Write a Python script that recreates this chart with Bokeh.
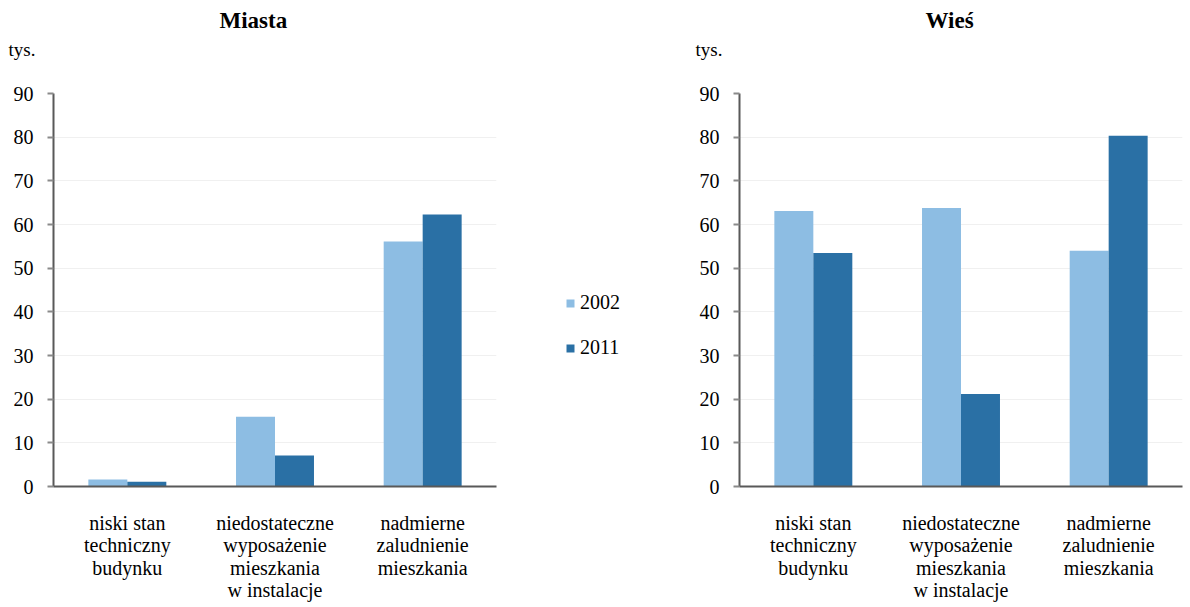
from bokeh.plotting import figure
from bokeh.models import (ColumnDataSource, Range1d, Legend, LegendItem, Title,
                          FactorRange)
from bokeh.transform import dodge
from bokeh.layouts import row, column
from bokeh.embed import file_html
from bokeh.resources import INLINE

# Categories (multi-line axis labels)
categories = [
    "niski stan\ntechniczny\nbudynku",
    "niedostateczne\nwyposażenie\nmieszkania\nw instalacje",
    "nadmierne\nzaludnienie\nmieszkania",
]
years = ["2002", "2011"]

# Values in thousands
miasta_2002 = [1.6, 16.0, 56.1]
miasta_2011 = [1.1, 7.1, 62.3]
wies_2002 = [63.1, 63.8, 54.0]
wies_2011 = [53.5, 21.2, 80.3]

y_ticks = [0, 10, 20, 30, 40, 50, 60, 70, 80, 90]
unit_label = "tys."

C2002 = "#8DBDE3"
C2011 = "#2A70A5"
AXIS = "#595959"
FONT = "'Liberation Serif', 'Times New Roman', serif"

HEADER_H = 80


def make_header(title, width, title_offset, unit_offset):
    # Strip above each chart: bold panel title above, unit caption below
    h = figure(width=width, height=HEADER_H, output_backend="svg",
               toolbar_location=None, tools="",
               x_range=Range1d(0, 1), y_range=Range1d(0, 1),
               min_border_top=35, min_border_bottom=HEADER_H - 36,
               min_border_left=0, min_border_right=0)
    h.axis.visible = False
    h.grid.visible = False
    h.outline_line_color = None
    h.title = Title(text=title, align="left", offset=title_offset,
                    text_font=FONT, text_font_size="23px",
                    text_font_style="bold", text_color="black", standoff=6)
    h.add_layout(Title(text=unit_label, align="left", offset=unit_offset,
                       vertical_align="top", text_font=FONT,
                       text_font_size="19px", text_font_style="normal",
                       text_color="black", standoff=5), "below")
    return h


def make_chart(v2002, v2011, width, border_left, border_right):
    src = ColumnDataSource(dict(cat=categories, y2002=v2002, y2011=v2011))
    p = figure(x_range=FactorRange(*categories), y_range=Range1d(0, 90),
               width=width, height=607 - HEADER_H, output_backend="svg",
               toolbar_location=None, tools="",
               min_border_left=border_left, min_border_right=border_right,
               min_border_top=93 - HEADER_H, min_border_bottom=121)
    p.title.visible = False

    p.vbar(x=dodge("cat", -0.132, range=p.x_range), top="y2002",
           width=0.264, source=src, fill_color=C2002, line_color=None)
    p.vbar(x=dodge("cat", 0.132, range=p.x_range), top="y2011",
           width=0.264, source=src, fill_color=C2011, line_color=None)

    p.outline_line_color = None
    p.background_fill_color = "white"
    p.border_fill_color = "white"
    p.xgrid.grid_line_color = None
    p.ygrid.grid_line_color = "#f0f0f0"
    p.ygrid.ticker = y_ticks

    p.yaxis.ticker = y_ticks
    p.yaxis.axis_line_color = AXIS
    p.yaxis.axis_line_width = 2
    p.yaxis.major_tick_line_color = "#8a8a8a"
    p.yaxis.major_tick_line_width = 2
    p.yaxis.major_tick_out = 6
    p.yaxis.major_tick_in = 0
    p.yaxis.minor_tick_line_color = None
    p.yaxis.major_label_text_font = FONT
    p.yaxis.major_label_text_font_size = "20px"
    p.yaxis.major_label_text_color = "black"
    p.yaxis.major_label_standoff = 14

    p.xaxis.axis_line_color = AXIS
    p.xaxis.axis_line_width = 2
    p.xaxis.major_tick_line_color = None
    p.xaxis.minor_tick_line_color = None
    p.xaxis.major_label_text_font = FONT
    p.xaxis.major_label_text_font_size = "20px"
    p.xaxis.major_label_text_line_height = 1.03
    p.xaxis.major_label_text_color = "black"
    p.xaxis.major_label_standoff = 19
    return p


left = column(make_header("Miasta", 510, 166, -45),
              make_chart(miasta_2002, miasta_2011, 510, 53, 14), spacing=0)
right = column(make_header("Wieś", 500, 186, -44),
               make_chart(wies_2002, wies_2011, 500, 49, 8), spacing=0)

# Middle column holding the shared legend
mid = figure(width=180, height=607, output_backend="svg", toolbar_location=None,
             tools="", x_range=Range1d(0, 1), y_range=Range1d(0, 1),
             min_border=0)
mid.title.visible = False
mid.axis.visible = False
mid.grid.visible = False
mid.outline_line_color = None
mid_src = ColumnDataSource(dict(x=[-5.0], top=[-5.0]))
m1 = mid.vbar(x="x", top="top", width=0.1, source=mid_src,
              fill_color=C2002, line_color=None)
m2 = mid.vbar(x="x", top="top", width=0.1, source=mid_src,
              fill_color=C2011, line_color=None)
legend = Legend(items=[LegendItem(label=years[0], renderers=[m1]),
                       LegendItem(label=years[1], renderers=[m2])],
                location=(55, 248), orientation="vertical",
                glyph_width=10, glyph_height=10, label_standoff=5,
                spacing=22, padding=0, margin=0,
                label_text_font=FONT, label_text_font_size="20px",
                label_text_color="black", border_line_color=None,
                background_fill_alpha=0)
mid.add_layout(legend)

layout = row(left, mid, right, spacing=0)

open("out.html", "w").write(file_html(layout, INLINE))
